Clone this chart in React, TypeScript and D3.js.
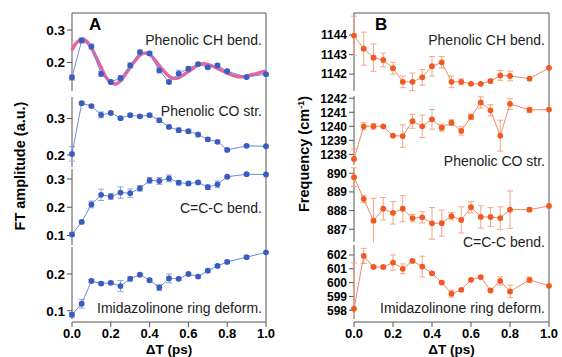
import React, { useEffect, useRef } from 'react';
import * as d3 from 'd3';

// delay times (ps)
const delays = [0, 0.05, 0.1, 0.15, 0.2, 0.25, 0.3, 0.35, 0.4, 0.45, 0.5, 0.55, 0.6, 0.65, 0.7, 0.75, 0.8, 0.9, 1.0];
const xTicks = [0, 0.2, 0.4, 0.6, 0.8, 1.0];

// panel A: FT amplitude
const ampCH = [0.154, 0.268, 0.249, 0.165, 0.140, 0.152, 0.191, 0.232, 0.228, 0.176, 0.140, 0.166, 0.181, 0.195, 0.185, 0.191, 0.173, 0.155, 0.164];
const ampCHErr = [0.008, 0.008, 0.008, 0.008, 0.005, 0.008, 0.008, 0.006, 0.006, 0.008, 0.005, 0.01, 0.006, 0.005, 0.005, 0.005, 0.005, 0.003, 0];
const ampCO = [0.203, 0.342, 0.334, 0.310, 0.315, 0.301, 0.309, 0.306, 0.309, 0.295, 0.277, 0.268, 0.265, 0.256, 0.243, 0.236, 0.214, 0.225, 0.224];
const ampCOErr = [0.02, 0.004, 0.004, 0.008, 0.004, 0.004, 0.004, 0.004, 0.004, 0.006, 0.004, 0.006, 0.005, 0.006, 0.005, 0.004, 0.003, 0.003, 0];
const ampCCC = [0.104, 0.148, 0.21, 0.244, 0.238, 0.252, 0.25, 0.267, 0.295, 0.293, 0.302, 0.287, 0.284, 0.288, 0.271, 0.281, 0.308, 0.317, 0.316];
const ampCCCErr = [0.005, 0.004, 0.012, 0.02, 0.01, 0.02, 0.015, 0.01, 0.01, 0.012, 0.012, 0.008, 0.006, 0.005, 0.008, 0.012, 0.004, 0.004, 0];
const ampIm = [0.089, 0.119, 0.181, 0.174, 0.176, 0.167, 0.187, 0.198, 0.183, 0.163, 0.188, 0.187, 0.2, 0.193, 0.209, 0.222, 0.233, 0.246, 0.259];
const ampImErr = [0.006, 0.012, 0.004, 0.004, 0.004, 0.015, 0.006, 0.004, 0.004, 0.008, 0.012, 0.004, 0.004, 0.004, 0.004, 0.004, 0.004, 0.004, 0];

// damped-oscillation fit of the CH bend amplitude
const fitX = [0, 0.025, 0.05, 0.075, 0.1, 0.125, 0.15, 0.175, 0.2, 0.225, 0.25, 0.3, 0.35, 0.375, 0.4, 0.45, 0.5, 0.525, 0.55, 0.6, 0.65, 0.675, 0.7, 0.75, 0.8, 0.85, 0.875, 0.9, 0.95, 1.0];
const fitY = [0.238, 0.262, 0.272, 0.266, 0.245, 0.215, 0.185, 0.155, 0.138, 0.134, 0.143, 0.185, 0.222, 0.229, 0.225, 0.19, 0.158, 0.151, 0.153, 0.172, 0.192, 0.196, 0.194, 0.182, 0.167, 0.157, 0.156, 0.158, 0.166, 0.174];

// panel B: frequency (cm-1)
const freqCH = [1143.97, 1143.3, 1142.84, 1142.72, 1142.3, 1141.6, 1141.6, 1141.83, 1142.4, 1142.6, 1141.6, 1141.6, 1141.5, 1141.5, 1141.64, 1141.93, 1141.9, 1141.76, 1142.32];
const freqCHErr = [1.0, 0.85, 0.7, 0.35, 0.3, 0.3, 0.45, 0.4, 0.5, 0.3, 0.3, 0.15, 0.05, 0.05, 0.1, 0.25, 0.25, 0, 0];
const freqCO = [1237.67, 1240, 1240, 1240, 1239.33, 1239.3, 1240.36, 1240, 1240.5, 1239.9, 1240.26, 1239.67, 1240.67, 1241.7, 1241.14, 1239.33, 1241.6, 1241.17, 1241.19];
const freqCOErr = [0.7, 0.25, 0.2, 0.05, 0.05, 0.8, 0.5, 0.8, 0.7, 0.25, 0.2, 0.3, 0.2, 0.4, 0.4, 1.1, 0.4, 0.2, 0];
const freqCCC = [889.79, 888.62, 887.46, 888.1, 887.88, 888.1, 887.6, 887.64, 887.32, 887.33, 887.7, 887.5, 888.18, 887.66, 887.66, 887.6, 888.05, 888.05, 888.25];
const freqCCCErr = [0.5, 0.2, 1.2, 0.6, 0.6, 0.7, 0.2, 0.3, 0.85, 0.7, 0.2, 0.7, 0.3, 0.6, 0.5, 0.6, 1.0, 0.1, 0];
const freqIm = [598.12, 601.93, 601.13, 601.13, 601.45, 601.0, 601.57, 601.16, 600.67, 600.0, 599.2, 599.48, 600.2, 600.4, 599.43, 600.12, 599.36, 600.2, 599.77];
const freqImErr = [3.3, 0.55, 0.1, 0.1, 0.55, 0.35, 0.1, 0.75, 0.1, 0.1, 0.25, 0.1, 0.1, 0.1, 0.1, 0.3, 0.45, 0.2, 0];

const labels = ['Phenolic CH bend.', 'Phenolic CO str.', 'C=C-C bend.', 'Imidazolinone ring deform.'];

const FONT = '"Liberation Sans", Arial, sans-serif';

const App = () => {
  const svgRef = useRef(null);

  useEffect(() => {
    const svg = d3.select(svgRef.current);
    svg.selectAll('*').remove();

    const drawPanel = (opts) => {
      const { x0, x1, letter, rows, point, line, errColor, tickSize, title, titleX, titleY } = opts;
      const xScale = d3.scaleLinear().domain([0, 1]).range([x0, x1]);
      const g = svg.append('g');

      // frame: top + right
      g.append('line').attr('x1', x0).attr('x2', x1).attr('y1', 13).attr('y2', 13).attr('stroke', '#555').attr('stroke-width', 1);
      g.append('line').attr('x1', x1).attr('x2', x1).attr('y1', 13).attr('y2', 322).attr('stroke', '#555').attr('stroke-width', 1);

      // bottom axis
      g.append('line').attr('x1', x0).attr('x2', x1).attr('y1', 322).attr('y2', 322).attr('stroke', '#555');
      xTicks.forEach(t => {
        g.append('line').attr('x1', xScale(t)).attr('x2', xScale(t)).attr('y1', 322).attr('y2', 327).attr('stroke', '#555');
        g.append('text').attr('x', xScale(t)).attr('y', 338).attr('text-anchor', 'middle')
          .attr('font-family', FONT).attr('font-weight', 'bold').attr('font-size', 13).text(t.toFixed(1));
      });
      g.append('text').attr('x', (x0 + x1) / 2).attr('y', 354).attr('text-anchor', 'middle')
        .attr('font-family', FONT).attr('font-weight', 'bold').attr('font-size', 13.5).text('\u0394T (ps)');

      rows.forEach((r, i) => {
        const y = d3.scaleLinear().domain(r.domain).range([r.bottom, r.top]);
        g.append('line').attr('x1', x0).attr('x2', x0).attr('y1', r.top).attr('y2', r.bottom).attr('stroke', '#555');
        r.ticks.forEach(t => {
          g.append('line').attr('x1', x0 - 5).attr('x2', x0).attr('y1', y(t)).attr('y2', y(t)).attr('stroke', '#555');
          g.append('text').attr('x', x0 - 7).attr('y', y(t)).attr('dy', '0.36em').attr('text-anchor', 'end')
            .attr('font-family', FONT).attr('font-weight', 'bold').attr('font-size', tickSize).text(r.fmt(t));
        });

        if (r.fit) {
          g.append('path').datum(r.fit.x.map((v, k) => [v, r.fit.y[k]]))
            .attr('fill', 'none').attr('stroke', '#e8649c').attr('stroke-width', 3.4)
            .attr('d', d3.line().x(d => xScale(d[0])).y(d => y(d[1])).curve(d3.curveCatmullRom));
        }

        // error bars
        r.values.forEach((v, k) => {
          const e = r.err[k];
          if (!e) return;
          const cx = xScale(delays[k]);
          const yt = y(v + e);
          const yb = Math.min(y(v - e), r.bottom);
          g.append('line').attr('x1', cx).attr('x2', cx).attr('y1', yt).attr('y2', yb).attr('stroke', errColor).attr('stroke-width', 1);
          g.append('line').attr('x1', cx - 3).attr('x2', cx + 3).attr('y1', yt).attr('y2', yt).attr('stroke', errColor).attr('stroke-width', 1);
          if (yb < r.bottom) g.append('line').attr('x1', cx - 3).attr('x2', cx + 3).attr('y1', yb).attr('y2', yb).attr('stroke', errColor).attr('stroke-width', 1);
        });

        g.append('path').datum(r.values)
          .attr('fill', 'none').attr('stroke', line).attr('stroke-width', 1)
          .attr('d', d3.line().x((d, k) => xScale(delays[k])).y(d => y(d)));

        g.selectAll(null).data(r.values).enter().append('circle')
          .attr('cx', (d, k) => xScale(delays[k])).attr('cy', d => y(d)).attr('r', 2.9).attr('fill', point);

        g.append('text').attr('x', x1 - 4).attr('y', r.labelY).attr('text-anchor', 'end')
          .attr('font-family', FONT).attr('font-size', 14).attr('fill', '#222').text(labels[i]);
      });

      g.append('text').attr('x', letter.x).attr('y', 30).attr('font-family', FONT).attr('font-weight', 'bold')
        .attr('font-size', 17).text(letter.t);

      const tt = g.append('text').attr('transform', `translate(${titleX},${titleY}) rotate(-90)`).attr('text-anchor', 'middle')
        .attr('font-family', FONT).attr('font-weight', 'bold').attr('font-size', 14.5);
      title(tt);
    };

    const f1 = d => d.toFixed(1);
    const f0 = d => d.toFixed(0);

    drawPanel({
      x0: 72, x1: 266, letter: { x: 89, t: 'A' }, point: '#3a5bc0', line: '#6f8ad8', errColor: '#8ea2df', tickSize: 13.5,
      titleX: 25, titleY: 166,
      title: t => t.text('FT amplitude (a.u.)'),
      rows: [
        { top: 13, bottom: 91, domain: [0.1123, 0.3523], ticks: [0.2, 0.3], fmt: f1, values: ampCH, err: ampCHErr, labelY: 45, fit: { x: fitX, y: fitY } },
        { top: 97, bottom: 167, domain: [0.1671, 0.3589], ticks: [0.2, 0.3], fmt: f1, values: ampCO, err: ampCOErr, labelY: 116 },
        { top: 169, bottom: 245, domain: [0.0664, 0.3354], ticks: [0.1, 0.2, 0.3], fmt: f1, values: ampCCC, err: ampCCCErr, labelY: 213 },
        { top: 247, bottom: 319, domain: [0.0774, 0.2736], ticks: [0.1, 0.2], fmt: f1, values: ampIm, err: ampImErr, labelY: 313 },
      ],
    });

    drawPanel({
      x0: 354, x1: 549, letter: { x: 375, t: 'B' }, point: '#f05a22', line: '#f48a62', errColor: '#f6a585', tickSize: 12,
      titleX: 309, titleY: 154,
      title: t => {
        t.append('tspan').text('Frequency (cm');
        t.append('tspan').attr('dy', -5).attr('font-size', 9).text('-1');
        t.append('tspan').attr('dy', 5).text(')');
      },
      rows: [
        { top: 13, bottom: 91, domain: [1141.13, 1145.13], ticks: [1142, 1143, 1144], fmt: f0, values: freqCH, err: freqCHErr, labelY: 45 },
        { top: 96, bottom: 165, domain: [1237.24, 1242.16], ticks: [1238, 1239, 1240, 1241, 1242], fmt: f0, values: freqCO, err: freqCOErr, labelY: 166 },
        { top: 168, bottom: 242, domain: [886.32, 890.28], ticks: [887, 888, 889, 890], fmt: f0, values: freqCCC, err: freqCCCErr, labelY: 247 },
        { top: 245, bottom: 319, domain: [597.37, 602.72], ticks: [598, 599, 600, 601, 602], fmt: f0, values: freqIm, err: freqImErr, labelY: 313 },
      ],
    });
  }, []);

  return (
    <svg ref={svgRef} width={562} height={357} style={{ position: 'absolute', left: 0, top: 0, background: 'white' }} />
  );
};

export default App;
